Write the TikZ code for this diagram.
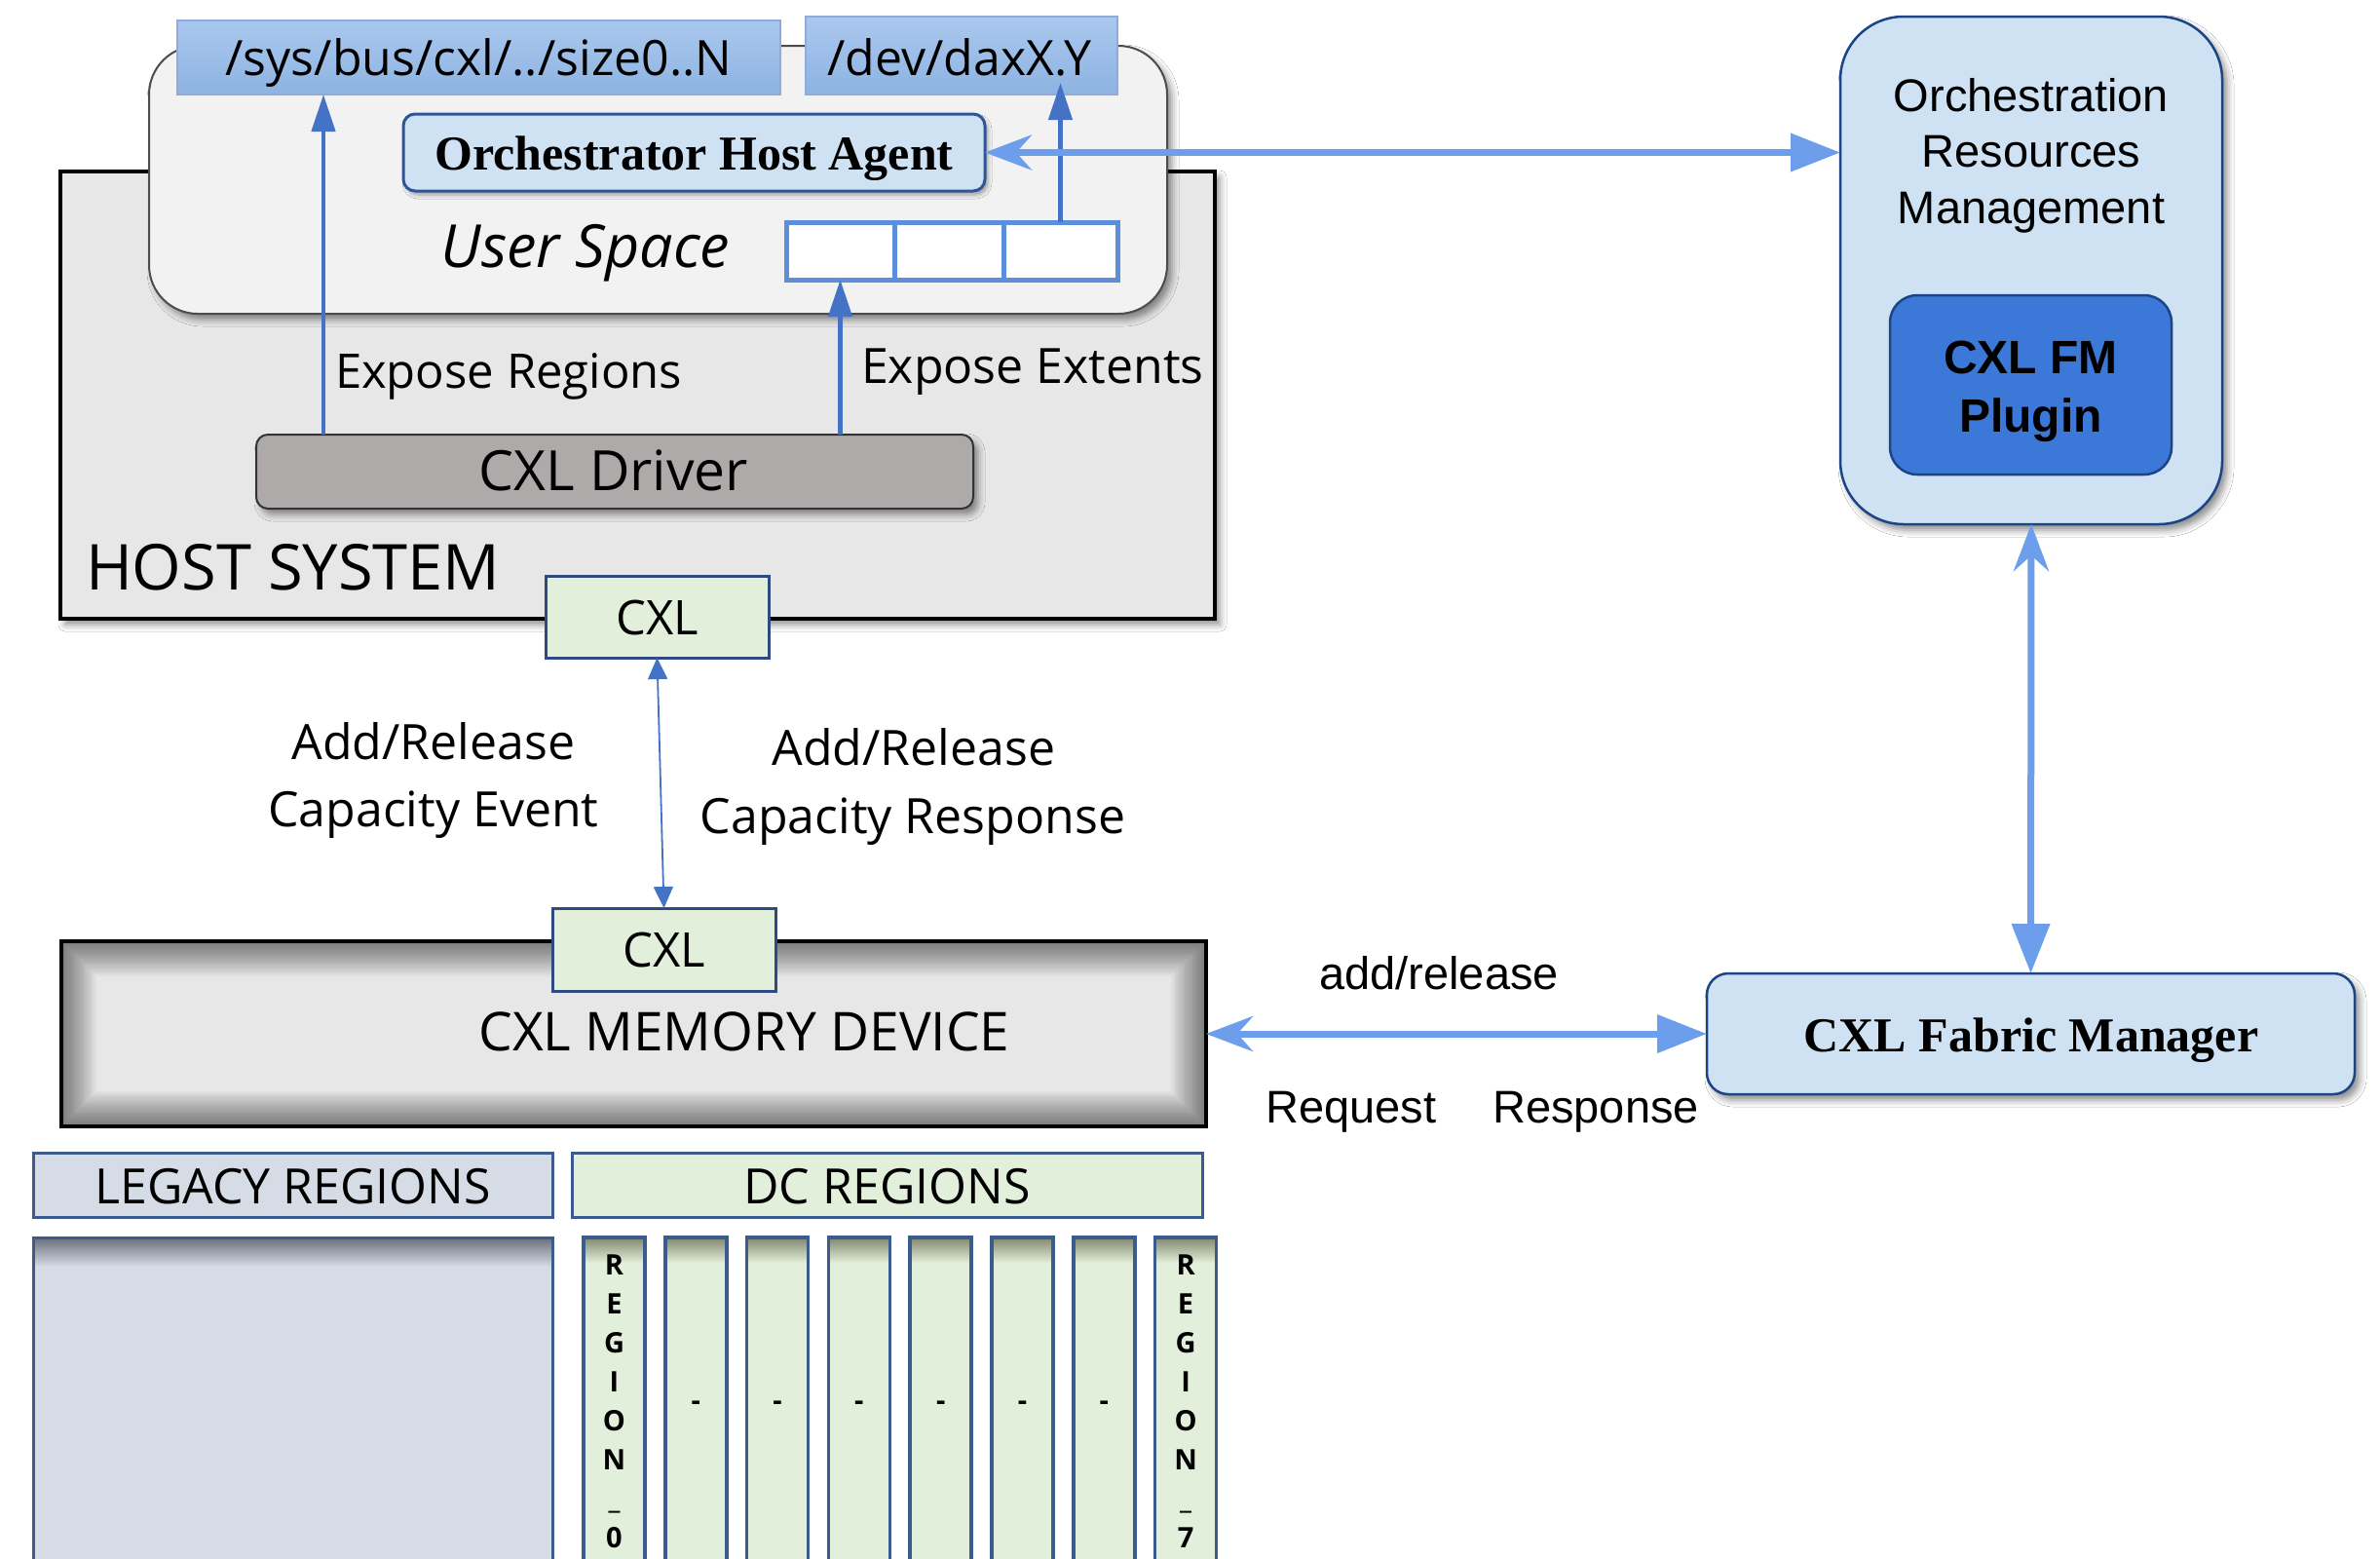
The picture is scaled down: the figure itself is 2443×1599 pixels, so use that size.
\documentclass[tikz,border=0pt]{standalone}
\usepackage{fontspec}
\setmainfont{Open Sans}
\newfontfamily\os{Open Sans}
\newfontfamily\ar{Liberation Sans}
\newfontfamily\tm{Liberation Serif}
\usetikzlibrary{arrows.meta,shadows.blur,calc}
\newcommand\fsz[1]{\fontsize{#1}{#1}\selectfont}

\definecolor{bigarrow}{HTML}{6D9EEB}
\definecolor{inarrow}{HTML}{4472C4}
\definecolor{lblue}{HTML}{CFE2F3}
\definecolor{dblue}{HTML}{1C4587}
\definecolor{plug}{HTML}{3C78D8}
\definecolor{agentbd}{HTML}{2F5597}
\definecolor{sysfillA}{HTML}{AAC8EE}
\definecolor{sysfillB}{HTML}{8DB3E2}
\definecolor{sysbd}{HTML}{8FAADC}
\definecolor{userfill}{HTML}{F2F2F2}
\definecolor{hostfill}{HTML}{E7E7E7}
\definecolor{cxlfill}{HTML}{E2EFDA}
\definecolor{cxlbd}{HTML}{2F4A80}
\definecolor{legfill}{HTML}{D6DCE5}
\definecolor{colbd}{HTML}{3B5B8F}
\definecolor{drvfill}{HTML}{AEAAAA}
\definecolor{slotbd}{HTML}{5B8FD9}
\definecolor{coltop}{RGB}{128,136,110}
\definecolor{legtop}{RGB}{105,110,122}

\begin{document}
\begin{tikzpicture}[x=1pt,y=-1pt,
  base/.style={inner sep=0pt, outer sep=0pt},
  sh/.style={blur shadow={shadow xshift=5pt, shadow yshift=-6pt, shadow blur radius=7pt, shadow opacity=45}},
  lbl/.style={base, anchor=base, font=\os\fsz{50}},
  arlbl/.style={base, anchor=base, font=\ar\fsz{47}},
  slot/.style={base, draw=slotbd, line width=5pt, fill=white, minimum height=59pt},
  cxlbox/.style={base, draw=cxlbd, line width=3pt, fill=cxlfill, minimum width=229pt, minimum height=84pt},
  dccol/.style={base, fill=cxlfill, minimum width=63pt, minimum height=350pt},
  rl/.style={base, anchor=base, font=\os\bfseries\fsz{29}},
  inar/.style={inarrow, line width=4.5pt, -{Triangle[length=38pt,width=24pt]}},
  thinar/.style={inarrow, line width=1.8pt, {Triangle[length=22pt,width=20pt]}-{Triangle[length=22pt,width=20pt]}},
  bigar/.style={bigarrow, line width=7pt, {Stealth[length=48pt,width=36pt,inset=16pt]}-{Triangle[length=51pt,width=38pt]}}
]
\fill[white] (0,0) rectangle (2443,1599);
\useasboundingbox (0,0) rectangle (2443,1599);

% ---------- host system ----------
\node[base, draw=black, line width=3.5pt, fill=hostfill, sh, minimum width=1185pt, minimum height=459pt] (host) at (654.5,405.5) {};
\node[base, anchor=base west, font=\os\fsz{65}] (hostlbl) at (88,605) {HOST SYSTEM};

% user space
\node[base, draw=black!70, line width=2pt, fill=userfill, rounded corners=50pt, sh, minimum width=1045pt, minimum height=275pt] (user) at (675.5,184.5) {};
\node[base, anchor=base, font=\os\itshape\fsz{61}] (usertxt) at (601,274) {User Space};

% sysfs / dev boxes
\node[base, draw=sysbd, line width=2pt, top color=sysfillA, bottom color=sysfillB, minimum width=619pt, minimum height=76pt] (sys) at (491.5,59) {};
\node[lbl] (systxt) at (491.5,77) {/sys/bus/cxl/../size0..N};
\node[base, draw=sysbd, line width=2pt, top color=sysfillA, bottom color=sysfillB, minimum width=320pt, minimum height=80pt] (dev) at (987,57) {};
\node[lbl] (devtxt) at (985,77) {/dev/daxX.Y};

% orchestrator host agent
\node[base, draw=agentbd, line width=3pt, fill=lblue, rounded corners=12pt, blur shadow={shadow xshift=3pt, shadow yshift=-4pt, shadow blur radius=4pt, shadow opacity=35}, minimum width=597pt, minimum height=79pt] (agent) at (712.5,156.5) {};
\node[base, anchor=base, font=\tm\bfseries\fsz{50}] (agenttxt) at (712.5,174) {Orchestrator Host Agent};

% slots
\node[slot, minimum width=111pt] (s1) at (862.5,257.5) {};
\node[slot, minimum width=112pt] (s2) at (974,257.5) {};
\node[slot, minimum width=117pt] (s3) at (1088.5,257.5) {};

% driver
\node[base, draw=black!80, line width=2pt, fill=drvfill, rounded corners=12pt, sh, minimum width=736pt, minimum height=76pt] (drv) at (631,484) {};
\node[base, anchor=base, font=\os\fsz{57}] (drvtxt) at (630,503) {CXL Driver};

% inner arrows
\coordinate (xr) at (332,0);
\draw[inar] (drv.north -| xr) -- (sys.south -| xr);
\draw[inar] (drv.north -| s1.south) -- (s1.south);
\draw[inar] (s3.north) -- ([yshift=12pt]dev.south -| s3.north);
\node[base, anchor=base west, font=\os\fsz{49}] (exreg) at (344,398) {Expose Regions};
\node[base, anchor=base west, font=\os\fsz{50}] (exext) at (884,393) {Expose Extents};

% CXL top port
\node[cxlbox] (cxltop) at (674.5,633) {};
\node[lbl, font=\os\fsz{49}] (cxltoptxt) at (675,651) {CXL};

% ---------- memory device ----------
\node[base, fill=hostfill, minimum width=1175pt, minimum height=190pt] (mem) at (650.5,1061) {};
\begin{scope}
  \clip (mem.south west) rectangle (mem.north east);
  \foreach \k in {1,...,20}
    \draw[black, opacity=0.028, line width={3.6*\k}] (mem.south west) rectangle (mem.north east);
\end{scope}
\draw[line width=4.5pt] (mem.south west) rectangle (mem.north east);
\node[cxlbox, minimum height=85pt] (cxlbot) at (681.5,974.5) {};
\node[lbl, font=\os\fsz{49}] (cxlbottxt) at (681.5,992) {CXL};
\node[lbl, font=\os\fsz{55}] (memtxt) at (764,1078) {CXL MEMORY DEVICE};

% host <-> device
\draw[thinar] (cxltop.south) -- (cxlbot.north);
\node[lbl] (ev1) at (445,779) {Add/Release};
\node[lbl] (ev2) at (445,848) {Capacity Event};
\node[lbl] (rs1) at (938,785) {Add/Release};
\node[lbl] (rs2) at (937,855) {Capacity Response};

% ---------- regions ----------
\node[base, draw=colbd, line width=3pt, fill=legfill, minimum width=533pt, minimum height=66pt] (leghdr) at (300.5,1216) {};
\node[lbl] (leghdrtxt) at (300.5,1235) {LEGACY REGIONS};
\node[base, draw=colbd, line width=3pt, fill=cxlfill, minimum width=647pt, minimum height=66pt] (dchdr) at (910.5,1216) {};
\node[lbl] (dchdrtxt) at (910.5,1235) {DC REGIONS};

\node[base, fill=legfill, minimum width=533pt, minimum height=350pt] (legbox) at (300.5,1445) {};
\shade[top color=legtop, bottom color=legfill] (legbox.north west) rectangle ($(legbox.north east)+(0,30)$);
\draw[colbd, line width=3pt] (legbox.south west) rectangle (legbox.north east);

\foreach \i in {0,...,7} {
  \node[dccol] (col\i) at ({630.5+83.8*\i},1445) {};
  \shade[top color=coltop, bottom color=cxlfill] (col\i.north west) rectangle ($(col\i.north east)+(0,26)$);
  \draw[colbd, line width=3.5pt] (col\i.south west) rectangle (col\i.north east);
}
\foreach \l [count=\j] in {R,E,G,I,O,N,\_,0}
  \node[rl] (ra\j) at (col0.center |- 0,{1268+40*\j}) {\l};
\foreach \l [count=\j] in {R,E,G,I,O,N,\_,7}
  \node[rl] (rb\j) at (col7.center |- 0,{1268+40*\j}) {\l};
\foreach \i in {1,...,6}
  \node[rl] (dash\i) at (col\i.center |- 0,1447) {-};

% ---------- orchestration ----------
\node[base, draw=dblue, line width=2.5pt, fill=lblue, rounded corners=65pt, sh, minimum width=392pt, minimum height=521pt] (orch) at (2085,277.5) {};
\node[arlbl] (o1) at (2085,114) {Orchestration};
\node[arlbl] (o2) at (2085,171) {Resources};
\node[arlbl] (o3) at (2085,229) {Management};
\node[base, draw=dblue, line width=2.5pt, fill=plug, rounded corners=28pt, minimum width=289pt, minimum height=184pt] (plug) at (2084.5,395) {};
\node[base, anchor=base, font=\ar\bfseries\fsz{48}] (p1) at (2084.5,383) {CXL FM};
\node[base, anchor=base, font=\ar\bfseries\fsz{48}] (p2) at (2084.5,443) {Plugin};

% fabric manager
\node[base, draw=dblue, line width=2.5pt, fill=lblue, rounded corners=22pt, sh, minimum width=665pt, minimum height=124pt] (fm) at (2084.5,1061) {};
\node[base, anchor=base, font=\tm\bfseries\fsz{50}] (fmtxt) at (2085,1079) {CXL Fabric Manager};

% big arrows
\draw[bigar] (agent.east) -- (agent.east -| orch.west);
\draw[bigar] (orch.south) -- (fm.north);
\draw[bigar] (mem.east) -- (fm.west);
\node[arlbl] (addrel) at (1477,1015) {add/release};
\node[arlbl] (req) at (1387,1152) {Request};
\node[arlbl] (resp) at (1638,1152) {Response};
\end{tikzpicture}
\end{document}
